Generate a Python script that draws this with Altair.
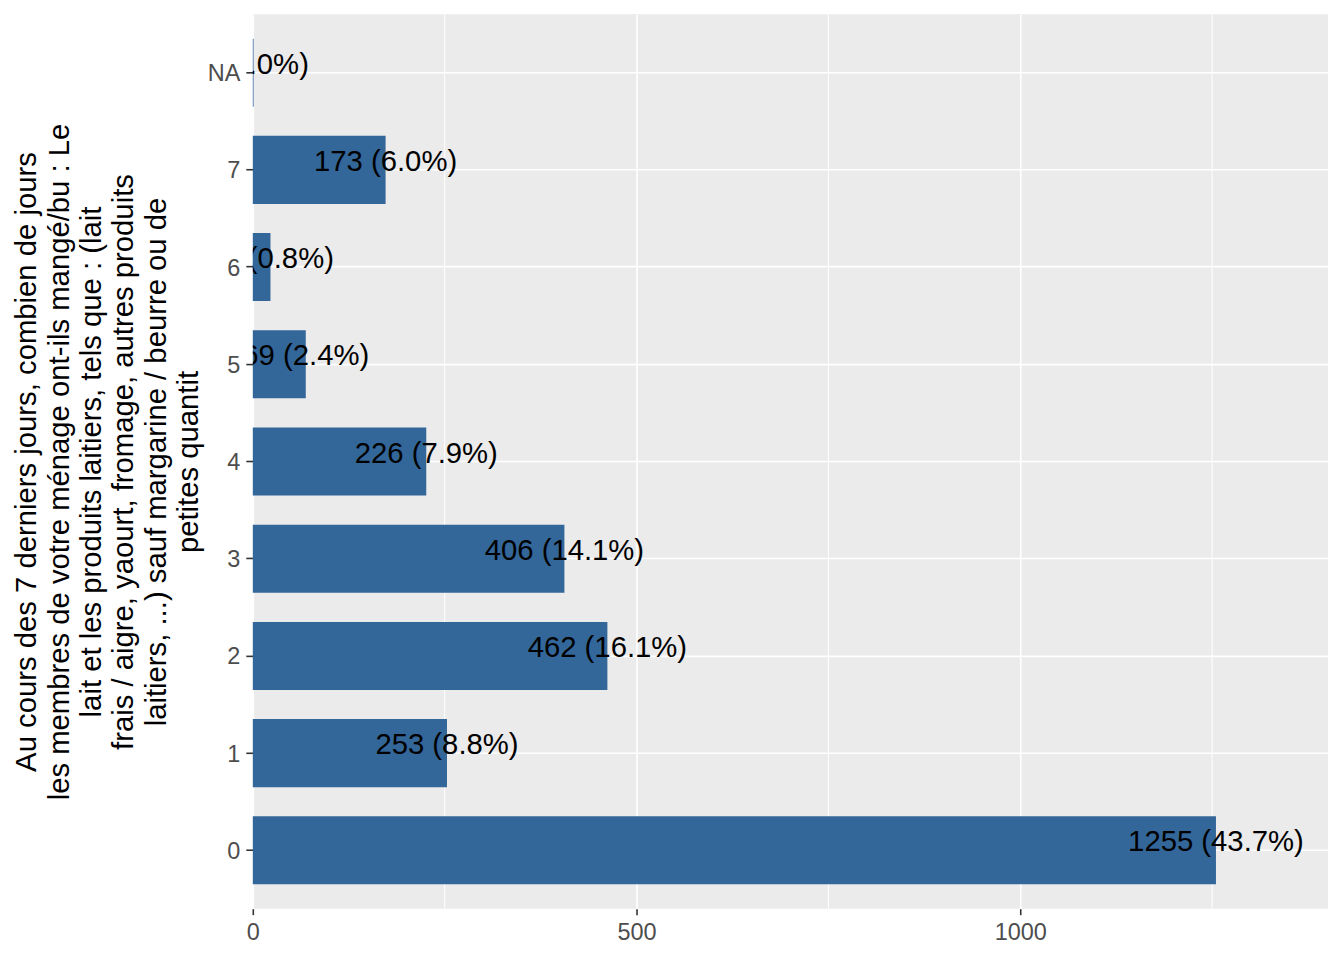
import altair as alt
import pandas as pd

categories = ["NA", "7", "6", "5", "4", "3", "2", "1", "0"]
counts = [1, 173, 23, 69, 226, 406, 462, 253, 1255]
labels = ["1 (0.0%)", "173 (6.0%)", "23 (0.8%)", "69 (2.4%)", "226 (7.9%)",
          "406 (14.1%)", "462 (16.1%)", "253 (8.8%)", "1255 (43.7%)"]
minor_breaks = [250, 750, 1250]
x_ticks = [0, 500, 1000]

title_lines = [
    "Au cours des 7 derniers jours, combien de jours",
    "les membres de votre ménage ont-ils mangé/bu : Le",
    "lait et les produits laitiers, tels que : (lait",
    "frais / aigre, yaourt, fromage, autres produits",
    "laitiers, ...) sauf margarine / beurre ou de",
    "petites quantit",
]

df = pd.DataFrame({"cat": categories, "n": counts, "label": labels})
minor_df = pd.DataFrame({"v": minor_breaks})

W, H = 1076, 895
FONT = "Liberation Sans"

x_scale = alt.Scale(domain=[0, 1401], nice=False, zero=True)
y_scale = alt.Scale(domain=categories, paddingInner=0.3, paddingOuter=0.25)

minor = alt.Chart(minor_df).mark_rule(color="white", strokeWidth=1).encode(
    x=alt.X("v:Q", scale=x_scale)
)

bars = alt.Chart(df).mark_bar(color="#336699").encode(
    x=alt.X(
        "n:Q",
        scale=x_scale,
        axis=alt.Axis(
            values=x_ticks,
            format="d",
            title=None,
            grid=True,
            gridColor="white",
            gridWidth=1.6,
            domain=False,
            tickColor="#333333",
            tickWidth=1.6,
            tickSize=6,
            labelFont=FONT,
            labelFontSize=23.5,
            labelColor="#4D4D4D",
            labelPadding=6,
            labelFlush=False,
        ),
    ),
    y=alt.Y(
        "cat:N",
        scale=y_scale,
        sort=categories,
        axis=alt.Axis(
            title=title_lines,
            grid=True,
            gridColor="white",
            gridWidth=1.6,
            bandPosition=0.5,
            domain=False,
            tickColor="#333333",
            tickWidth=1.6,
            tickSize=7,
            labelFont=FONT,
            labelFontSize=23.5,
            labelColor="#4D4D4D",
            labelPadding=6,
            labelOffset=1.5,
            titleFont=FONT,
            titleFontSize=29.3,
            titleFontWeight="normal",
            titleColor="black",
            titleAngle=270,
            titleAlign="center",
            titleBaseline="middle",
            titleLineHeight=32.3,
            titleX=-226,
            titleY=H / 2,
        ),
    ),
)

text = alt.Chart(df).mark_text(
    font=FONT, fontSize=29.3, color="black", align="center",
    baseline="middle", dy=-8, clip=True
).encode(
    x=alt.X("n:Q", scale=x_scale),
    y=alt.Y("cat:N", scale=y_scale, sort=categories),
    text="label:N",
)

chart = (
    alt.layer(minor, bars, text)
    .properties(
        width=W,
        height=H,
        background="white",
        autosize=alt.AutoSizeParams(type="none"),
        padding={"left": 245, "top": 6, "right": 8, "bottom": 40},
    )
    .configure_view(fill="#EBEBEB", strokeWidth=0)
)

chart.save("out.html", embed_options={"renderer": "svg", "actions": False})
